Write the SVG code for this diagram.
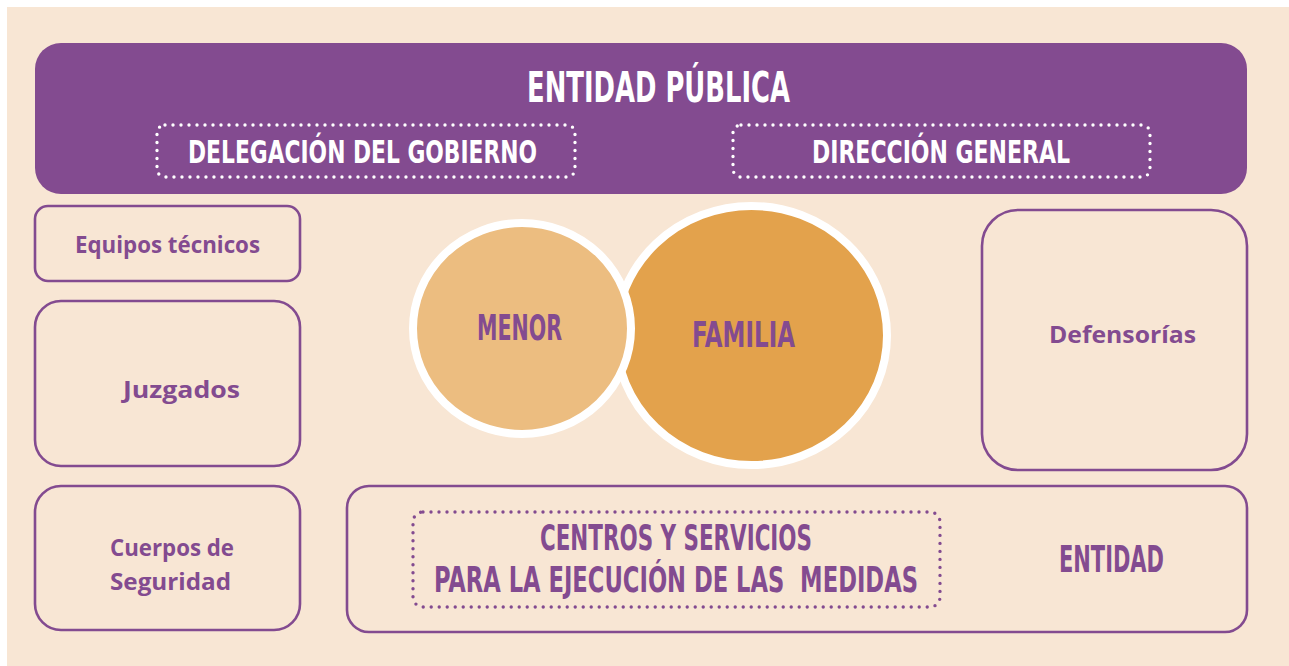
<svg xmlns="http://www.w3.org/2000/svg" width="1289" height="666" viewBox="0 0 1289 666">
<style>
.box{fill:none;stroke:#834b90;stroke-width:2.6}
.dotw{fill:none;stroke:#ffffff;stroke-width:3.4;stroke-dasharray:0 8;stroke-linecap:round}
.dotp{fill:none;stroke:#834b90;stroke-width:3.4;stroke-dasharray:0 8;stroke-linecap:round}
.disp{font-family:"Liberation Sans Narrow","DejaVu Sans Condensed","Liberation Sans",sans-serif;font-weight:bold;text-anchor:middle}
.body{font-family:"Open Sans","Liberation Sans",sans-serif;font-weight:bold;text-anchor:middle;fill:#834b90;font-size:24px}
.w{fill:#ffffff}
.p{fill:#834b90}
</style>
<rect x="0" y="0" width="1289" height="666" fill="#ffffff"/>
<rect x="7" y="7" width="1282" height="659" fill="#f8e6d4"/>
<g id="entidad-publica">
<rect x="35" y="43" width="1212" height="151" rx="26" fill="#834b90"/>
<text class="disp w" x="658.5" y="102" font-size="42" textLength="263" lengthAdjust="spacingAndGlyphs">ENTIDAD PÚBLICA</text>
</g>
<g id="delegacion">
<rect class="dotw" x="157" y="125" width="418" height="52" rx="8"/>
<text class="disp w" x="362.5" y="163" font-size="32" textLength="349" lengthAdjust="spacingAndGlyphs">DELEGACIÓN DEL GOBIERNO</text>
</g>
<g id="direccion">
<rect class="dotw" x="733" y="125" width="417" height="52" rx="8"/>
<text class="disp w" x="941" y="163" font-size="32" textLength="258" lengthAdjust="spacingAndGlyphs">DIRECCIÓN GENERAL</text>
</g>
<g id="equipos">
<rect class="box" x="35" y="206" width="265" height="75" rx="13"/>
<text class="body" x="167.5" y="253" textLength="185" lengthAdjust="spacingAndGlyphs">Equipos técnicos</text>
</g>
<g id="juzgados">
<rect class="box" x="35" y="301" width="265" height="165" rx="26"/>
<text class="body" x="181.5" y="398" textLength="117" lengthAdjust="spacingAndGlyphs">Juzgados</text>
</g>
<g id="cuerpos">
<rect class="box" x="35" y="486" width="265" height="144" rx="26"/>
<text class="body" x="172" y="556" textLength="124" lengthAdjust="spacingAndGlyphs">Cuerpos de</text>
<text class="body" x="170.5" y="590" textLength="121" lengthAdjust="spacingAndGlyphs">Seguridad</text>
</g>
<g id="defensorias">
<rect class="box" x="982" y="210" width="265" height="260" rx="36"/>
<text class="body" x="1122.5" y="343" textLength="147" lengthAdjust="spacingAndGlyphs">Defensorías</text>
</g>
<g id="familia">
<ellipse cx="751.5" cy="335.5" rx="135.5" ry="129.5" fill="#e3a24c" stroke="#ffffff" stroke-width="8"/>
<text class="disp p" x="743.5" y="347" font-size="36" textLength="103" lengthAdjust="spacingAndGlyphs">FAMILIA</text>
</g>
<g id="menor">
<ellipse cx="522" cy="328.5" rx="109" ry="105.5" fill="#ecbd80" stroke="#ffffff" stroke-width="8"/>
<text class="disp p" x="519.5" y="340" font-size="36" textLength="85" lengthAdjust="spacingAndGlyphs">MENOR</text>
</g>
<g id="entidad">
<rect class="box" x="347" y="486" width="900" height="146" rx="22"/>
<text class="disp p" x="1111.5" y="572" font-size="37" textLength="105" lengthAdjust="spacingAndGlyphs">ENTIDAD</text>
</g>
<g id="centros">
<rect class="dotp" x="413" y="512" width="527" height="95" rx="10"/>
<text class="disp p" x="676" y="550" font-size="35" textLength="272" lengthAdjust="spacingAndGlyphs">CENTROS Y SERVICIOS</text>
<text class="disp p" x="676" y="592" font-size="35" textLength="484" lengthAdjust="spacingAndGlyphs" xml:space="preserve">PARA LA EJECUCIÓN DE LAS  MEDIDAS</text>
</g>
<g id="connectors"></g>
</svg>
